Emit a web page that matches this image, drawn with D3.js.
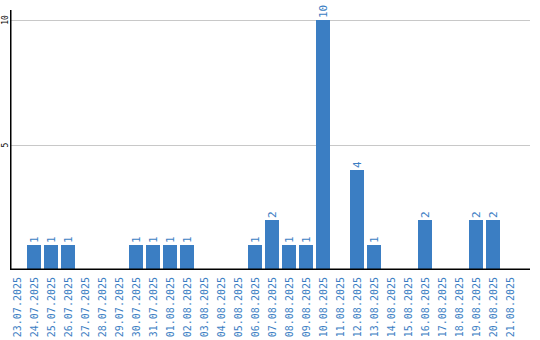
<!DOCTYPE html>
<html>
<head>
<meta charset="utf-8">
<script src="https://cdn.jsdelivr.net/npm/d3@7"></script>
<style>
body{margin:0;background:#fff;}
svg text{font-family:"DejaVu Sans Mono",monospace;}
</style>
</head>
<body>
<div id="chart"></div>
<script>
// dates and counts per day
var days = ["23.07.2025","24.07.2025","25.07.2025","26.07.2025","27.07.2025","28.07.2025",
	"29.07.2025","30.07.2025","31.07.2025","01.08.2025","02.08.2025","03.08.2025",
	"04.08.2025","05.08.2025","06.08.2025","07.08.2025","08.08.2025","09.08.2025",
	"10.08.2025","11.08.2025","12.08.2025","13.08.2025","14.08.2025","15.08.2025",
	"16.08.2025","17.08.2025","18.08.2025","19.08.2025","20.08.2025","21.08.2025"];
var counts = [0,1,1,1,0,0,0,1,1,1,1,0,0,0,1,2,1,1,10,0,4,1,0,0,2,0,0,2,2,0];
var yTicks = [5,10];

var W = 540, H = 340;
var mLeft = 10, mRight = 530, mTop = 20, mBottom = 270;
var blue = "#3b7ec3";

var svg = d3.select("#chart").append("svg").attr("width",W).attr("height",H);

var x = d3.scaleBand().domain(days).range([mLeft, 517]).paddingInner(3/17).paddingOuter(0);
var y = d3.scaleLinear().domain([0,10]).range([mBottom, mTop]);

//grid
svg.selectAll(".grid").data(yTicks).enter().append("line")
	.attr("x1",mLeft).attr("x2",mRight)
	.attr("y1",function(d){return Math.round(y(d))+0.5;})
	.attr("y2",function(d){return Math.round(y(d))+0.5;})
	.attr("stroke","#c8c8c8");

//bars
var data = days.map(function(d,i){return [d,counts[i]];});
var nonZero = data.filter(function(d){return d[1]>0;});
svg.selectAll("rect").data(nonZero).enter().append("rect")
	.attr("x",function(d){return x(d[0]);})
	.attr("y",function(d){return y(d[1]);})
	.attr("width",x.bandwidth())
	.attr("height",function(d){return y(0)-y(d[1]);})
	.attr("fill",blue);

//bar values
svg.selectAll(".val").data(nonZero).enter().append("text")
	.attr("class","val")
	.attr("transform",function(d){
		return "translate("+(x(d[0])+x.bandwidth()/2+4)+","+(y(d[1])-2)+") rotate(-90)";
	})
	.attr("fill",blue).style("font-size","11px")
	.text(function(d){return d[1];});

//y axis
svg.append("line").attr("x1",mLeft+0.75).attr("x2",mLeft+0.75).attr("y1",10).attr("y2",mBottom)
	.attr("stroke","#000").attr("stroke-width",1.5);
svg.selectAll(".ytick").data(yTicks).enter().append("text")
	.attr("transform",function(d){return "translate(7.5,"+y(d)+") rotate(-90)";})
	.attr("text-anchor","middle").style("font-size","8px").attr("fill","#000")
	.text(function(d){return d;});

//x axis
svg.append("line").attr("x1",mLeft).attr("x2",mRight).attr("y1",mBottom-0.75).attr("y2",mBottom-0.75)
	.attr("stroke","#000").attr("stroke-width",1.5);
svg.selectAll(".xlab").data(days).enter().append("text")
	.attr("transform",function(d){
		return "translate("+(x(d)+x.bandwidth()/2+4)+","+(mBottom+7)+") rotate(-90)";
	})
	.attr("text-anchor","end").attr("fill",blue).style("font-size","10px")
	.text(function(d){return d;});
</script>
</body>
</html>
